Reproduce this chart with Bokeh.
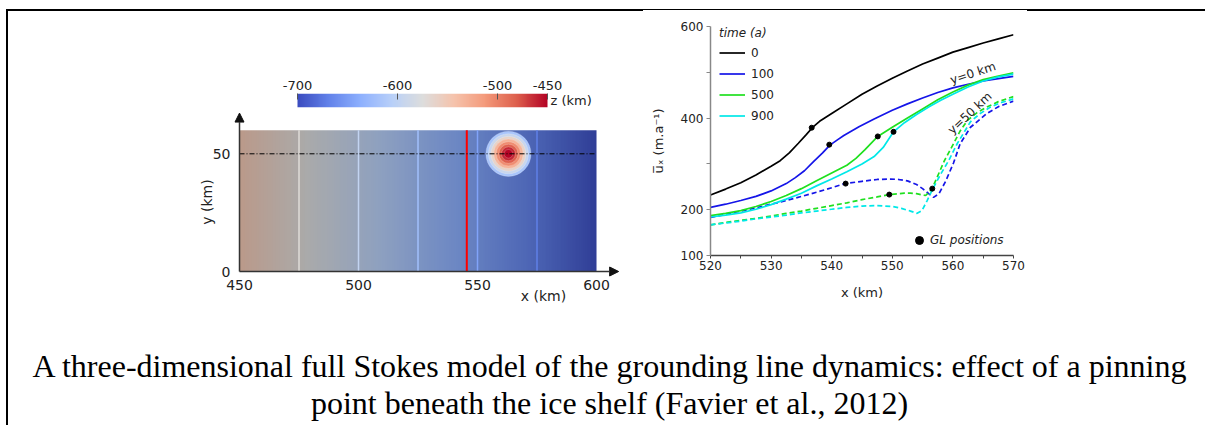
import numpy as np
from bokeh.plotting import figure
from bokeh.models import (FixedTicker, Legend, LegendItem, Label, Arrow, NormalHead,
                          LinearColorMapper, Div, Spacer)
from bokeh.layouts import column, row
from bokeh.embed import file_html
from bokeh.resources import INLINE
from bokeh.core.properties import value

# ---------------- right panel data: depth-averaged velocity (m/a) vs x (km) ----------------
times = ["0", "100", "500", "900"]

x_t0 = [520, 522.5, 525, 527.5, 530, 531.5, 533, 534.5, 535.8, 536.8, 538, 540, 542.5, 545,
        547.5, 550, 552.5, 555, 557.5, 560, 562.5, 565, 567.5, 570]
u_t0 = [232, 245, 259, 276, 295, 307, 324, 345, 364, 379, 393, 410, 431, 452,
        470, 487, 503, 518, 531, 544, 554, 564, 573, 582]

x_t100 = [520, 522.5, 525, 527.5, 530, 532.5, 534, 535.5, 537, 538.5, 539.7, 541, 542, 544.5,
          547, 550, 552.5, 555, 557.5, 560, 562.5, 565, 567.5, 570]
u_t100 = [205, 212, 220, 229, 241, 257, 270, 285, 305, 324, 341, 353, 362, 381,
          398, 417, 431, 444, 456, 466, 474, 481, 486, 491]

x_t500 = [520, 522.5, 525, 527.5, 530, 532.5, 535, 537.5, 540, 542.5, 544, 545.5, 547.6, 550,
          552.5, 555, 557.5, 560, 562.5, 565, 567.5, 570]
u_t500 = [187, 192, 198, 207, 218, 231, 246, 263, 280, 297, 312, 331, 360, 380,
          400, 420, 440, 457, 472, 484, 492, 499]

x_t900 = [520, 522.5, 525, 527.5, 530, 532.5, 535, 537.5, 540, 542.5, 545, 547, 548.5, 550.2,
          552, 554, 556, 558, 560, 562.5, 565, 567.5, 570]
u_t900 = [184, 188, 193, 201, 211, 223, 236, 252, 267, 283, 300, 316, 336, 370,
          390, 408, 424, 439, 452, 468, 481, 490, 496]

# y = 50 km (dashed)
x_t100d = [520, 522.5, 525, 527.5, 530, 532.5, 535, 537.5, 540, 542.2, 545, 547.5, 549.7, 551,
           552.5, 554, 555, 556, 556.8, 557.7, 558.8, 560.1, 561.2, 562.9, 565.6, 567.5, 570]
u_t100d = [183, 190, 197, 204, 212, 220, 229, 238, 248, 257, 262, 266, 267, 266,
           263, 255, 246, 235, 227, 235, 262, 302, 344, 380, 410, 425, 437]

x_t500d = [520, 522.5, 525, 527.5, 530, 532.5, 535, 537.5, 540, 542.5, 545, 547.5, 549.5, 551,
           552, 553, 554, 555, 555.5, 556.2, 556.7, 557.4, 558.6, 560.1, 561.2, 562.4, 564,
           565.6, 567.5, 570]
u_t500d = [167, 172, 177, 181, 186, 192, 197, 203, 209, 215, 222, 228, 233, 235,
           236, 236, 235, 232, 231, 240, 250, 271, 307, 344, 372, 395, 412,
           424, 436, 447]

x_t900d = [520, 522.5, 525, 527.5, 530, 532.5, 535, 537.5, 540, 542.5, 545, 547.5, 550, 551.5,
           553, 554.1, 554.9, 555.75, 556.7, 558, 559.3, 560.7, 562.9, 564.5, 566.2, 568, 570]
u_t900d = [167, 171, 175, 180, 184, 188, 193, 197, 201, 205, 208, 209, 207, 203,
           197, 192, 198, 220, 246, 278, 307, 344, 392, 410, 424, 434, 442]

# grounding-line positions
gl_x = [536.7, 539.6, 547.6, 550.2, 542.3, 549.5, 556.6]
gl_u = [379, 342, 360, 370, 257, 233, 246]

# curve annotations
note_text = ["y=0 km", "y=50 km"]
note_x = [563.3, 562.8]
note_u = [498, 411]
note_angle_deg = [18, 43]

x_ticks_r = [520, 530, 540, 550, 560, 570]
x_minor_r = [525, 535, 545, 555, 565]
u_ticks = [100, 200, 400, 600]
u_minor = [300, 500]

# ---------------- left panel data: bed elevation (map view) ----------------
bed_x = [450, 475, 500, 525, 550, 575, 600]          # km
bed_z = [-548, -572, -597, -622, -646, -670, -697]   # colour scale "z"
map_y_max = 60
gl_map_x = 545.5                                     # grounding line (km)
pin_x, pin_y = 563, 50                               # pinning point centre (km)
pin_r = [9.5, 8.4, 7.3, 6.2, 5.1, 4.0, 2.9, 1.8]     # contour radii (km)
pin_z = [-617, -592, -562, -532, -505, -481, -462, -450]
profile_y = 50
map_x_ticks = [450, 500, 550, 600]
map_y_ticks = [0, 50]
cbar_ticks = [-700, -600, -500, -450]
z_low, z_high = -700, -450

FONT = "DejaVu Sans"
TXT = "#222222"

# coolwarm colour map
CW_POS = [0, .125, .25, .375, .5, .625, .75, .875, 1]
CW_RGB = [(59, 76, 192), (98, 130, 234), (141, 176, 254), (184, 208, 249), (221, 221, 221),
          (245, 196, 173), (244, 154, 123), (222, 96, 77), (180, 4, 38)]


def coolwarm(t, shade=1.0):
    t = min(max(t, 0.0), 1.0)
    c = [int(round(np.interp(t, CW_POS, [rgb[k] for rgb in CW_RGB]) * shade)) for k in range(3)]
    return "#%02x%02x%02x" % tuple(c)


def zt(z):
    return (z - z_low) / (z_high - z_low)


cw_palette = [coolwarm(i / 255) for i in range(256)]
shaded_palette = [coolwarm(i / 255, 0.77) for i in range(256)]

# ---------------- colour bar figure ----------------
cb = figure(width=635, height=98, x_range=(-802, -376), y_range=(0, 1),
            x_axis_location="above", y_axis_location=None,
            min_border_left=187, min_border_right=22, min_border_top=82, min_border_bottom=2,
            output_backend="svg", toolbar_location=None)
cb_vals = np.tile(np.linspace(z_low, z_high, 256), (2, 1))
cb.image(image=[cb_vals], x=z_low, y=0, dw=z_high - z_low, dh=1,
         color_mapper=LinearColorMapper(palette=cw_palette, low=z_low, high=z_high))
cb.xaxis.ticker = FixedTicker(ticks=cbar_ticks)
cb.xaxis.major_label_overrides = {t: str(t) for t in cbar_ticks}
cb.xaxis.axis_line_color = None
cb.xaxis.major_tick_in = 6
cb.xaxis.major_tick_out = 0
cb.xaxis.minor_tick_line_color = None
cb.xaxis.major_tick_line_color = "#555555"
cb.xaxis.major_label_text_font = FONT
cb.xaxis.major_label_text_font_size = "13px"
cb.xaxis.major_label_text_color = TXT
cb.xaxis.major_label_standoff = 4
cb.grid.visible = False
cb.outline_line_color = None
cb.add_layout(Label(x=z_high, y=0.5, x_offset=3, text="z (km)", text_font=FONT,
                    text_font_size="13px", text_baseline="middle", text_align="left",
                    text_color=TXT))

# ---------------- map figure ----------------
pm = figure(width=635, height=211, x_range=(431.51, 610.5), y_range=(-14.44, 67.97),
            min_border_left=187, min_border_right=22, min_border_top=2, min_border_bottom=15,
            output_backend="svg", toolbar_location=None)
xs_img = np.linspace(bed_x[0], bed_x[-1], 451)
bed_img = np.tile(np.interp(xs_img, bed_x, bed_z), (2, 1))
pm.image(image=[bed_img], x=bed_x[0], y=0, dw=bed_x[-1] - bed_x[0], dh=map_y_max,
         color_mapper=LinearColorMapper(palette=shaded_palette, low=z_low, high=z_high))
cont_x = bed_x[1:-1]
cont_c = [coolwarm(zt(z)) for z in bed_z[1:-1]]
pm.segment(x0=cont_x, y0=[0] * len(cont_x), x1=cont_x, y1=[map_y_max] * len(cont_x),
           line_color=cont_c, line_width=1.5)
pm.segment(x0=[gl_map_x], y0=[0], x1=[gl_map_x], y1=[map_y_max], line_color="#ff0000",
           line_width=2)
pm.circle(x=[pin_x] * len(pin_r), y=[pin_y] * len(pin_r), radius=pin_r,
          fill_color=[coolwarm(zt(z)) for z in pin_z], line_color="white", line_alpha=0.35,
          line_width=0.6)
pm.line(x=[bed_x[0], bed_x[-1]], y=[profile_y, profile_y], line_color="black", line_width=1,
        line_dash="5 2 1 2")
pm.add_layout(Arrow(end=NormalHead(size=9, fill_color="#111111", line_color="#111111", line_width=1),
                    x_start=450, y_start=0, x_end=609.3, y_end=0,
                    line_color="#333333", line_width=1.5))
pm.add_layout(Arrow(end=NormalHead(size=9, fill_color="#111111", line_color="#111111", line_width=1),
                    x_start=450, y_start=0, x_end=450, y_end=67.3,
                    line_color="#333333", line_width=1.5))
pm.xaxis.fixed_location = 0
pm.yaxis.fixed_location = 450
pm.xaxis.ticker = FixedTicker(ticks=map_x_ticks)
pm.yaxis.ticker = FixedTicker(ticks=map_y_ticks)
for ax in (pm.xaxis, pm.yaxis):
    ax.axis_line_color = None
    ax.major_tick_line_color = None
    ax.minor_tick_line_color = None
    ax.major_label_text_font = FONT
    ax.major_label_text_font_size = "14px"
    ax.major_label_text_color = TXT
pm.xaxis.major_label_standoff = 2
pm.yaxis.major_label_standoff = 3
pm.grid.visible = False
pm.outline_line_color = None
pm.add_layout(Label(x=577.7, y=-10.2, text="x (km)", text_font=FONT, text_font_size="14px",
                    text_align="center", text_baseline="middle", text_color=TXT))
pm.add_layout(Label(x=436.3, y=29.5, text="y (km)", angle=np.pi / 2, text_font=FONT,
                    text_font_size="14px", text_align="center", text_baseline="middle",
                    text_color=TXT))

# ---------------- velocity figure ----------------
pr = figure(width=562, height=309, x_range=(520, 570), y_range=(100, 600),
            min_border_left=67, min_border_right=192, min_border_top=15, min_border_bottom=65,
            output_backend="svg", toolbar_location=None)
BLUE, GREEN, CYAN = "#1515e8", "#1fe01f", "#00e8e8"
LW = 1.7
DASH = "5 3"
pr.line(x_t100d, u_t100d, line_color=BLUE, line_width=LW, line_dash=DASH)
pr.line(x_t500d, u_t500d, line_color=GREEN, line_width=LW, line_dash=DASH)
pr.line(x_t900d, u_t900d, line_color=CYAN, line_width=LW, line_dash=DASH)
r0 = pr.line(x_t0, u_t0, line_color="black", line_width=LW)
r1 = pr.line(x_t100, u_t100, line_color=BLUE, line_width=LW)
r5 = pr.line(x_t500, u_t500, line_color=GREEN, line_width=LW)
r9 = pr.line(x_t900, u_t900, line_color=CYAN, line_width=LW)
rgl = pr.scatter(gl_x, gl_u, size=5, fill_color="black", line_color="black")
pr.text(x=note_x, y=note_u, text=note_text, angle=[np.deg2rad(a) for a in note_angle_deg],
        text_align="center", text_baseline="middle", text_font=value(FONT),
        text_font_size="12px", text_color=TXT)

leg = Legend(items=[LegendItem(label=t, renderers=[r]) for t, r in zip(times, [r0, r1, r5, r9])],
             title="time (a)", title_text_font_style="italic", title_text_font=FONT,
             title_text_font_size="12px", title_text_color=TXT, title_standoff=2,
             label_text_font=FONT, label_text_font_size="12px", label_text_color=TXT,
             glyph_width=26, glyph_height=21, label_height=21, spacing=0, padding=0, margin=0,
             label_standoff=6, border_line_color=None, background_fill_alpha=0,
             location=(9, 129))
pr.add_layout(leg)
leg2 = Legend(items=[LegendItem(label="GL positions", renderers=[rgl])],
              label_text_font=FONT, label_text_font_size="12px", label_text_font_style="italic",
              label_text_color=TXT, glyph_width=20, glyph_height=20, label_height=20,
              padding=0, margin=0, label_standoff=1, border_line_color=None,
              background_fill_alpha=0, location=(199, 5))
pr.add_layout(leg2)

pr.xaxis.ticker = FixedTicker(ticks=x_ticks_r, minor_ticks=x_minor_r)
pr.yaxis.ticker = FixedTicker(ticks=u_ticks, minor_ticks=u_minor)
pr.xaxis.axis_label = "x (km)"
pr.yaxis.axis_label = "u\u0305\u2093 (m.a\u207b\u00b9)"
for ax in (pr.xaxis, pr.yaxis):
    ax.major_tick_in = 0
    ax.minor_tick_in = 0
    ax.major_label_text_font = FONT
    ax.major_label_text_font_size = "12px"
    ax.major_label_text_color = TXT
    ax.axis_label_text_font = FONT
    ax.axis_label_text_font_size = "13px"
    ax.axis_label_text_font_style = "normal"
    ax.axis_label_text_color = TXT
    ax.axis_line_width = 1.5
pr.xaxis.major_tick_out = 3
pr.xaxis.minor_tick_out = 3
pr.yaxis.major_tick_out = 4
pr.yaxis.minor_tick_out = 4
pr.xaxis.axis_line_color = "#444444"
pr.xaxis.major_tick_line_color = "#444444"
pr.xaxis.minor_tick_line_color = "#444444"
pr.yaxis.axis_line_color = "#888888"
pr.yaxis.major_tick_line_color = "#888888"
pr.yaxis.minor_tick_line_color = "#888888"
pr.xaxis.major_label_standoff = 2
pr.yaxis.major_label_standoff = 3
pr.xaxis.axis_label_standoff = 12
pr.yaxis.axis_label_standoff = 12
pr.grid.visible = False
pr.outline_line_color = None

# ---------------- page layout ----------------
def bar(w, h):
    return Div(text="", width=w, height=h, margin=0, styles={"background-color": "#000000"})


caption = Div(
    text=("<div style=\"font-family:'Liberation Serif','Times New Roman',serif;font-size:32px;"
          "line-height:37px;text-align:center;color:#000;padding-top:28px;padding-left:6px;"
          "box-sizing:border-box;width:1197px;\">"
          "A three-dimensional full Stokes model of the grounding line dynamics: effect of a pinning"
          "<br>point beneath the ice shelf (Favier et al., 2012)</div>"),
    width=1197, height=105, margin=0)

top_border = row(bar(635, 2), bar(384, 1), bar(178, 2), margin=0)
content = column(top_border, row(column(cb, pm, margin=0), pr, margin=0), caption, margin=0)
root = column(Spacer(width=1205, height=9, margin=0),
              row(Spacer(width=6, height=416, margin=0), bar(2, 416), content, margin=0),
              margin=0)

open("out.html", "w").write(file_html(root, INLINE))
